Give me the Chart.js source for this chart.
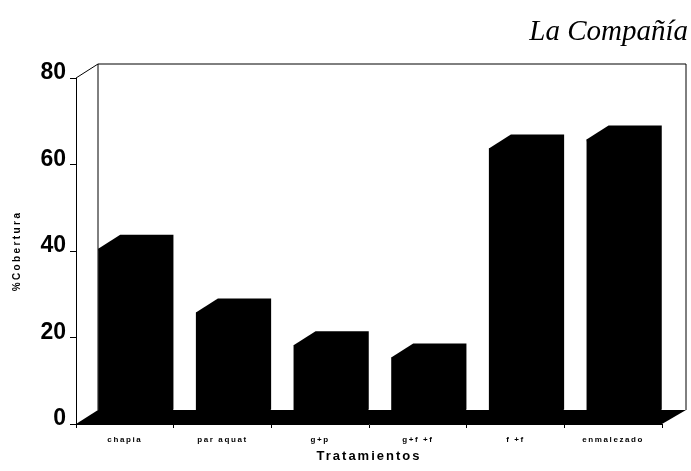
<!DOCTYPE html>
<html lang="es">
<head>
  <meta charset="UTF-8" />
  <title>La Compañía – %Cobertura por tratamiento</title>
  <script src="https://cdn.jsdelivr.net/npm/chart.js@4.4.0/dist/chart.umd.min.js"></script>
  <style>
    html, body { margin: 0; padding: 0; background: #fff; }
    canvas { display: block; }
  </style>
</head>
<body>
  <canvas id="cobChart" width="691" height="471"></canvas>

  <script>
    // ---- data -------------------------------------------------------------
    const tratamientos = ['chapia', 'par aquat', 'g+p', 'g+f +f', 'f +f', 'enmalezado'];
    const cobertura    = [40.5, 25.8, 18.2, 15.4, 63.7, 65.8];
    const yTicks       = [0, 20, 40, 60, 80];
    const sitio        = 'La Compañía';

    // depth of the fake 3D box
    const DX = 22, DY = 14;

    // letter spacing on some of the axis text (the scan has very wide text)
    function spaced(scale, fn, sp) {
      if (scale['_sp_' + fn]) return;
      scale['_sp_' + fn] = true;
      const orig = scale[fn];
      scale[fn] = function (...args) {
        const c = this.ctx, old = c.letterSpacing;
        c.letterSpacing = sp;
        orig.apply(this, args);
        c.letterSpacing = old;
      };
    }

    const box3d = {
      id: 'box3d',
      afterUpdate(chart) {
        spaced(chart.scales.x, 'drawLabels', '1.6px');
        spaced(chart.scales.x, 'drawTitle', '2px');
        spaced(chart.scales.y, 'drawTitle', '2.4px');
      },
      beforeDatasetsDraw(chart) {
        const { ctx, chartArea: a } = chart;
        const base = chart.scales.y.getPixelForValue(0);
        ctx.save();
        ctx.strokeStyle = '#000';
        ctx.lineWidth = 1;
        // back wall
        ctx.beginPath();
        ctx.moveTo(a.left, a.top);
        ctx.lineTo(a.left + DX, a.top - DY);
        ctx.lineTo(a.right + DX + 2, a.top - DY);
        ctx.lineTo(a.right + DX + 2, base - DY);
        ctx.moveTo(a.left + DX, a.top - DY);
        ctx.lineTo(a.left + DX, base - DY);
        ctx.stroke();
        // floor
        ctx.fillStyle = '#000';
        ctx.beginPath();
        ctx.moveTo(a.left, base);
        ctx.lineTo(a.left + DX, base - DY);
        ctx.lineTo(a.right + DX + 2, base - DY);
        ctx.lineTo(a.right, base);
        ctx.closePath();
        ctx.fill();
        ctx.restore();
      },
      afterDatasetsDraw(chart) {
        const ctx = chart.ctx;
        ctx.save();
        ctx.fillStyle = '#000';
        chart.getDatasetMeta(0).data.forEach(bar => {
          const l = bar.x - bar.width / 2, r = bar.x + bar.width / 2;
          ctx.beginPath();
          ctx.moveTo(l, bar.y);
          ctx.lineTo(l + DX, bar.y - DY);
          ctx.lineTo(r + DX, bar.y - DY);
          ctx.lineTo(r + DX, bar.base - DY);
          ctx.lineTo(r, bar.base);
          ctx.closePath();
          ctx.fill();
        });
        ctx.restore();
      },
      afterDraw(chart) {
        const ctx = chart.ctx;
        ctx.save();
        ctx.font = 'italic 29px "Liberation Serif", "Times New Roman", serif';
        ctx.fillStyle = '#000';
        ctx.textAlign = 'right';
        ctx.textBaseline = 'alphabetic';
        ctx.fillText(sitio, 688, 40);
        ctx.restore();
      }
    };

    new Chart(document.getElementById('cobChart'), {
      type: 'bar',
      data: {
        labels: tratamientos,
        datasets: [{
          label: '%Cobertura',
          data: cobertura,
          backgroundColor: '#000',
          borderWidth: 0,
          barPercentage: 0.545,
          categoryPercentage: 1
        }]
      },
      options: {
        responsive: false,
        animation: false,
        layout: { padding: { left: 0, right: 29, top: 78, bottom: 0 } },
        plugins: {
          legend: { display: false },
          tooltip: { enabled: false }
        },
        scales: {
          x: {
            afterFit: s => { s.height = 47; },
            grid: { drawOnChartArea: false, drawTicks: true, tickLength: 4, color: '#000', offset: true },
            border: { color: '#000', width: 1 },
            ticks: {
              autoSkip: false, maxRotation: 0, padding: 7, color: '#000',
              font: { family: '"Liberation Sans", Arial, sans-serif', size: 8, weight: 'bold' }
            },
            title: {
              display: true, text: 'Tratamientos', color: '#000',
              padding: { top: 0, bottom: 7 },
              font: { family: '"Liberation Sans", Arial, sans-serif', size: 13, weight: 'bold' }
            }
          },
          y: {
            min: 0, max: 80,
            afterFit: s => { s.width = 76; },
            afterBuildTicks: s => { s.ticks = yTicks.map(v => ({ value: v })); },
            grid: { drawOnChartArea: false, drawTicks: true, tickLength: 6, color: '#000' },
            border: { color: '#000', width: 1 },
            ticks: {
              padding: 4, labelOffset: -5, color: '#000',
              font: { family: '"Liberation Sans", Arial, sans-serif', size: 23, weight: 'bold' }
            },
            title: {
              display: true, text: '%Cobertura', color: '#000',
              padding: { top: 11, bottom: 0 },
              font: { family: '"Liberation Sans", Arial, sans-serif', size: 10, weight: 'bold' }
            }
          }
        }
      },
      plugins: [box3d]
    });
  </script>
</body>
</html>
